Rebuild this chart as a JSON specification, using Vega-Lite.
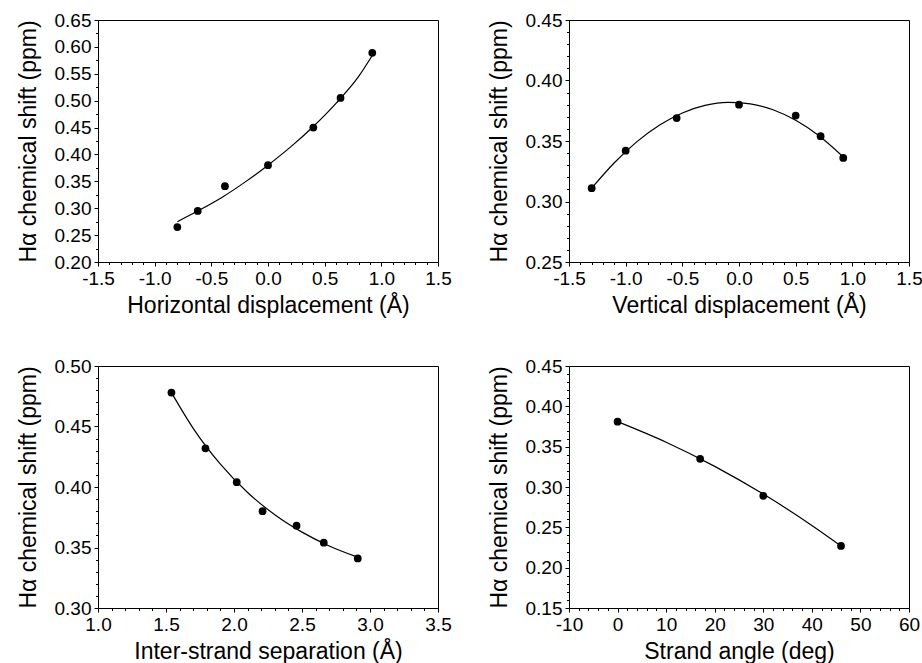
{
  "$schema": "https://vega.github.io/schema/vega-lite/v6.json",
  "background": "white",
  "padding": {"left": 16, "top": 10, "right": 5, "bottom": 5},
  "columns": 2,
  "spacing": {"column": 131, "row": 104},
  "bounds": "flush",
  "datasets": {
    "h_pts": [
      {"x": -0.8, "y": 0.265}, {"x": -0.62, "y": 0.295}, {"x": -0.38, "y": 0.341},
      {"x": 0.0, "y": 0.380}, {"x": 0.4, "y": 0.450}, {"x": 0.64, "y": 0.505}, {"x": 0.92, "y": 0.589}
    ],
    "h_fit": [
      {"x": -0.8, "y": 0.275}, {"x": -0.6, "y": 0.297}, {"x": -0.4, "y": 0.321}, {"x": -0.2, "y": 0.349},
      {"x": 0.0, "y": 0.380}, {"x": 0.2, "y": 0.414}, {"x": 0.4, "y": 0.452}, {"x": 0.6, "y": 0.495},
      {"x": 0.8, "y": 0.545}, {"x": 0.92, "y": 0.584}
    ],
    "v_pts": [
      {"x": -1.3, "y": 0.311}, {"x": -1.0, "y": 0.342}, {"x": -0.55, "y": 0.369},
      {"x": 0.0, "y": 0.380}, {"x": 0.5, "y": 0.371}, {"x": 0.72, "y": 0.354}, {"x": 0.92, "y": 0.336}
    ],
    "v_fit": [
      {"x": -1.3, "y": 0.311}, {"x": -1.1, "y": 0.332}, {"x": -0.9, "y": 0.3495}, {"x": -0.7, "y": 0.3632},
      {"x": -0.5, "y": 0.3732}, {"x": -0.3, "y": 0.3794}, {"x": -0.1, "y": 0.3819}, {"x": 0.1, "y": 0.3807},
      {"x": 0.3, "y": 0.3758}, {"x": 0.5, "y": 0.3671}, {"x": 0.7, "y": 0.3547}, {"x": 0.92, "y": 0.3368}
    ],
    "s_pts": [
      {"x": 1.54, "y": 0.478}, {"x": 1.79, "y": 0.432}, {"x": 2.02, "y": 0.404}, {"x": 2.21, "y": 0.380},
      {"x": 2.46, "y": 0.368}, {"x": 2.66, "y": 0.354}, {"x": 2.91, "y": 0.341}
    ],
    "s_fit": [
      {"x": 1.54, "y": 0.478}, {"x": 1.7, "y": 0.4485}, {"x": 1.9, "y": 0.4189}, {"x": 2.1, "y": 0.3955},
      {"x": 2.3, "y": 0.3771}, {"x": 2.5, "y": 0.3627}, {"x": 2.7, "y": 0.3513}, {"x": 2.91, "y": 0.342}
    ],
    "a_pts": [
      {"x": 0, "y": 0.381}, {"x": 17, "y": 0.335}, {"x": 30, "y": 0.289}, {"x": 46, "y": 0.227}
    ],
    "a_fit": [
      {"x": 0, "y": 0.381}, {"x": 10, "y": 0.3555}, {"x": 20, "y": 0.3256}, {"x": 30, "y": 0.2912},
      {"x": 40, "y": 0.2524}, {"x": 46, "y": 0.227}
    ]
  },
  "concat": [
    {
      "width": 340, "height": 242,
      "layer": [
        {
          "data": {"name": "h_fit"},
          "mark": {"type": "line", "color": "black", "strokeWidth": 1.2, "interpolate": "monotone"},
          "encoding": {
            "x": {"field": "x", "type": "quantitative", "scale": {"domain": [-1.5, 1.5], "nice": false, "zero": false},
                  "axis": {"orient": "bottom", "title": null, "labels": false, "tickSize": 2.5,
                           "values": [-1.5,-1.4,-1.3,-1.2,-1.1,-1.0,-0.9,-0.8,-0.7,-0.6,-0.5,-0.4,-0.3,-0.2,-0.1,0,0.1,0.2,0.3,0.4,0.5,0.6,0.7,0.8,0.9,1.0,1.1,1.2,1.3,1.4,1.5]}},
            "y": {"field": "y", "type": "quantitative", "scale": {"domain": [0.2, 0.65], "nice": false, "zero": false},
                  "axis": {"orient": "left", "title": null, "labels": false, "tickSize": 2.5,
                           "values": [0.2,0.225,0.25,0.275,0.3,0.325,0.35,0.375,0.4,0.425,0.45,0.475,0.5,0.525,0.55,0.575,0.6,0.625,0.65]}}
          }
        },
        {
          "data": {"name": "h_pts"},
          "mark": {"type": "circle", "color": "black", "size": 60, "opacity": 1},
          "encoding": {
            "x": {"field": "x", "type": "quantitative", "scale": {"domain": [-1.5, 1.5], "nice": false, "zero": false},
                  "axis": {"orient": "bottom", "title": "Horizontal displacement (Å)", "format": ".1f",
                           "values": [-1.5, -1.0, -0.5, 0, 0.5, 1.0, 1.5]}},
            "y": {"field": "y", "type": "quantitative", "scale": {"domain": [0.2, 0.65], "nice": false, "zero": false},
                  "axis": {"orient": "left", "title": "Hα chemical shift (ppm)", "format": ".2f",
                           "values": [0.2,0.25,0.3,0.35,0.4,0.45,0.5,0.55,0.6,0.65]}}
          }
        }
      ],
      "resolve": {"axis": {"x": "independent", "y": "independent"}}
    },
    {
      "width": 340, "height": 242,
      "layer": [
        {
          "data": {"name": "v_fit"},
          "mark": {"type": "line", "color": "black", "strokeWidth": 1.2, "interpolate": "monotone"},
          "encoding": {
            "x": {"field": "x", "type": "quantitative", "scale": {"domain": [-1.5, 1.5], "nice": false, "zero": false},
                  "axis": {"orient": "bottom", "title": null, "labels": false, "tickSize": 2.5,
                           "values": [-1.5,-1.4,-1.3,-1.2,-1.1,-1.0,-0.9,-0.8,-0.7,-0.6,-0.5,-0.4,-0.3,-0.2,-0.1,0,0.1,0.2,0.3,0.4,0.5,0.6,0.7,0.8,0.9,1.0,1.1,1.2,1.3,1.4,1.5]}},
            "y": {"field": "y", "type": "quantitative", "scale": {"domain": [0.25, 0.45], "nice": false, "zero": false},
                  "axis": {"orient": "left", "title": null, "labels": false, "tickSize": 2.5,
                           "values": [0.25,0.26,0.27,0.28,0.29,0.3,0.31,0.32,0.33,0.34,0.35,0.36,0.37,0.38,0.39,0.4,0.41,0.42,0.43,0.44,0.45]}}
          }
        },
        {
          "data": {"name": "v_pts"},
          "mark": {"type": "circle", "color": "black", "size": 60, "opacity": 1},
          "encoding": {
            "x": {"field": "x", "type": "quantitative", "scale": {"domain": [-1.5, 1.5], "nice": false, "zero": false},
                  "axis": {"orient": "bottom", "title": "Vertical displacement (Å)", "format": ".1f",
                           "values": [-1.5, -1.0, -0.5, 0, 0.5, 1.0, 1.5]}},
            "y": {"field": "y", "type": "quantitative", "scale": {"domain": [0.25, 0.45], "nice": false, "zero": false},
                  "axis": {"orient": "left", "title": "Hα chemical shift (ppm)", "format": ".2f",
                           "values": [0.25,0.3,0.35,0.4,0.45]}}
          }
        }
      ],
      "resolve": {"axis": {"x": "independent", "y": "independent"}}
    },
    {
      "width": 340, "height": 242,
      "layer": [
        {
          "data": {"name": "s_fit"},
          "mark": {"type": "line", "color": "black", "strokeWidth": 1.2, "interpolate": "monotone"},
          "encoding": {
            "x": {"field": "x", "type": "quantitative", "scale": {"domain": [1.0, 3.5], "nice": false, "zero": false},
                  "axis": {"orient": "bottom", "title": null, "labels": false, "tickSize": 2.5,
                           "values": [1.0,1.1,1.2,1.3,1.4,1.5,1.6,1.7,1.8,1.9,2.0,2.1,2.2,2.3,2.4,2.5,2.6,2.7,2.8,2.9,3.0,3.1,3.2,3.3,3.4,3.5]}},
            "y": {"field": "y", "type": "quantitative", "scale": {"domain": [0.3, 0.5], "nice": false, "zero": false},
                  "axis": {"orient": "left", "title": null, "labels": false, "tickSize": 2.5,
                           "values": [0.3,0.31,0.32,0.33,0.34,0.35,0.36,0.37,0.38,0.39,0.4,0.41,0.42,0.43,0.44,0.45,0.46,0.47,0.48,0.49,0.5]}}
          }
        },
        {
          "data": {"name": "s_pts"},
          "mark": {"type": "circle", "color": "black", "size": 60, "opacity": 1},
          "encoding": {
            "x": {"field": "x", "type": "quantitative", "scale": {"domain": [1.0, 3.5], "nice": false, "zero": false},
                  "axis": {"orient": "bottom", "title": "Inter-strand separation (Å)", "format": ".1f",
                           "values": [1.0, 1.5, 2.0, 2.5, 3.0, 3.5]}},
            "y": {"field": "y", "type": "quantitative", "scale": {"domain": [0.3, 0.5], "nice": false, "zero": false},
                  "axis": {"orient": "left", "title": "Hα chemical shift (ppm)", "format": ".2f",
                           "values": [0.3,0.35,0.4,0.45,0.5]}}
          }
        }
      ],
      "resolve": {"axis": {"x": "independent", "y": "independent"}}
    },
    {
      "width": 340, "height": 242,
      "layer": [
        {
          "data": {"name": "a_fit"},
          "mark": {"type": "line", "color": "black", "strokeWidth": 1.2, "interpolate": "monotone"},
          "encoding": {
            "x": {"field": "x", "type": "quantitative", "scale": {"domain": [-10, 60], "nice": false, "zero": false},
                  "axis": {"orient": "bottom", "title": null, "labels": false, "tickSize": 2.5,
                           "values": [-10,-8,-6,-4,-2,0,2,4,6,8,10,12,14,16,18,20,22,24,26,28,30,32,34,36,38,40,42,44,46,48,50,52,54,56,58,60]}},
            "y": {"field": "y", "type": "quantitative", "scale": {"domain": [0.15, 0.45], "nice": false, "zero": false},
                  "axis": {"orient": "left", "title": null, "labels": false, "tickSize": 2.5,
                           "values": [0.15,0.16,0.17,0.18,0.19,0.2,0.21,0.22,0.23,0.24,0.25,0.26,0.27,0.28,0.29,0.3,0.31,0.32,0.33,0.34,0.35,0.36,0.37,0.38,0.39,0.4,0.41,0.42,0.43,0.44,0.45]}}
          }
        },
        {
          "data": {"name": "a_pts"},
          "mark": {"type": "circle", "color": "black", "size": 60, "opacity": 1},
          "encoding": {
            "x": {"field": "x", "type": "quantitative", "scale": {"domain": [-10, 60], "nice": false, "zero": false},
                  "axis": {"orient": "bottom", "title": "Strand angle (deg)", "format": "d",
                           "values": [-10, 0, 10, 20, 30, 40, 50, 60]}},
            "y": {"field": "y", "type": "quantitative", "scale": {"domain": [0.15, 0.45], "nice": false, "zero": false},
                  "axis": {"orient": "left", "title": "Hα chemical shift (ppm)", "format": ".2f",
                           "values": [0.15,0.2,0.25,0.3,0.35,0.4,0.45]}}
          }
        }
      ],
      "resolve": {"axis": {"x": "independent", "y": "independent"}}
    }
  ],
  "config": {
    "locale": {"number": {"decimal": ".", "thousands": ",", "grouping": [3], "currency": ["$", ""], "minus": "-"}},
    "view": {"stroke": "black", "strokeWidth": 1},
    "axis": {
      "domain": false,
      "grid": false,
      "ticks": true,
      "tickColor": "black",
      "tickWidth": 1,
      "tickSize": 4,
      "labelFont": "Liberation Sans",
      "labelFontSize": 19,
      "labelColor": "black",
      "labelPadding": 3,
      "labelOverlap": false,
      "labelFlush": false,
      "titleFont": "Liberation Sans",
      "titleFontSize": 23,
      "titleFontWeight": "normal",
      "titleColor": "black"
    },
    "axisX": {"titlePadding": 6},
    "axisY": {"titlePadding": 14}
  }
}
